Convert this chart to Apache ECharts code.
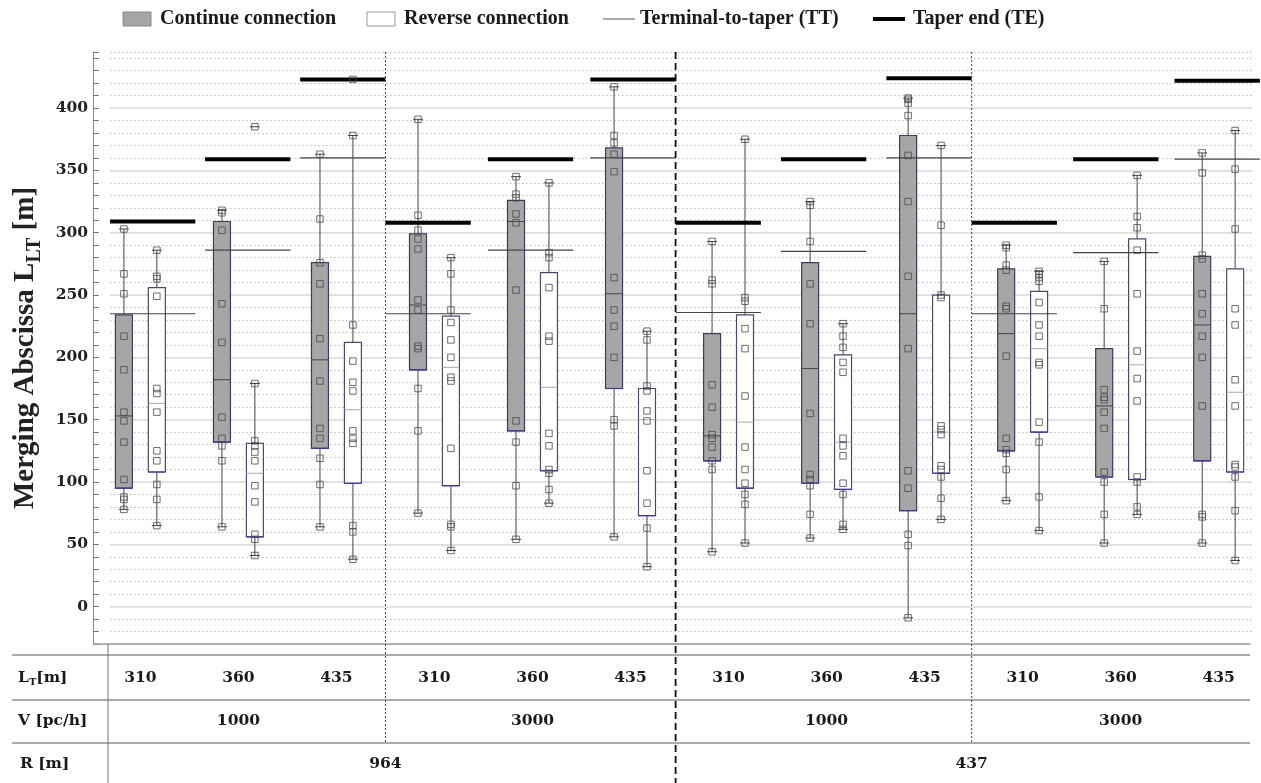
<!DOCTYPE html>
<html><head><meta charset="utf-8">
<script src="https://cdn.jsdelivr.net/npm/echarts@6/dist/echarts.min.js"></script>
<style>html,body{margin:0;padding:0;background:#fff}#c{width:1261px;height:783px}</style>
</head><body><div id="c"></div>
<script>
// ---------------- DATA ----------------
const ltLabels = ['310','360','435','310','360','435','310','360','435','310','360','435'];
const vLabels = ['1000','3000','1000','3000'];
const rLabels = ['964','437'];
const yMajorTicks = [0,50,100,150,200,250,300,350,400];
const legendNames = ['Continue connection','Reverse connection','Terminal-to-taper (TT)','Taper end (TE)'];

// box statistics: [min, Q1, median, Q3, max]
const contStats = [
  [78, 95, 153, 234, 303],
  [64, 132, 182, 309, 318],
  [64, 127, 198, 276, 363],
  [75, 190, 242, 299, 391],
  [54, 141, 309, 326, 345],
  [56, 175, 251, 368, 417],
  [44, 117, 137, 219, 293],
  [55, 99, 191, 276, 325],
  [-9, 77, 235, 378, 408],
  [85, 125, 219, 271, 290],
  [51, 104, 161, 207, 277],
  [51, 117, 226, 281, 364]
];
const revStats = [
  [65, 108, 163, 256, 286],
  [41, 56, 107, 131, 179],
  [38, 99, 158, 212, 378],
  [45, 97, 192, 233, 280],
  [83, 109, 176, 268, 340],
  [32, 73, 150, 175, 221],
  [51, 95, 148, 234, 375],
  [62, 94, 132, 202, 227],
  [70, 107, 140, 250, 370],
  [61, 140, 207, 253, 269],
  [74, 102, 194, 295, 346],
  [37, 108, 172, 271, 382]
];
// individual observations
const contPoints = [
  [303, 267, 251, 217, 190, 156, 149, 132, 102, 88, 86, 78],
  [318, 316, 302, 243, 212, 152, 135, 129, 117, 64],
  [363, 311, 276, 259, 215, 181, 143, 135, 119, 98, 64],
  [391, 314, 302, 295, 287, 246, 238, 209, 207, 175, 141, 75],
  [345, 331, 328, 315, 308, 254, 149, 132, 97, 54],
  [417, 378, 372, 363, 349, 264, 238, 225, 200, 150, 145, 56],
  [293, 262, 259, 178, 160, 138, 135, 128, 117, 110, 44],
  [325, 322, 293, 259, 227, 155, 106, 102, 97, 74, 55],
  [408, 407, 404, 394, 362, 325, 265, 207, 109, 95, 58, 49, -9],
  [290, 288, 274, 270, 241, 239, 201, 135, 126, 123, 110, 85],
  [277, 239, 174, 168, 166, 156, 143, 108, 100, 74, 51],
  [364, 348, 282, 279, 251, 235, 217, 200, 161, 74, 72, 51]
];
const revPoints = [
  [286, 265, 263, 249, 175, 171, 156, 125, 117, 98, 86, 65],
  [385, 179, 133, 129, 124, 117, 97, 84, 58, 54, 41],
  [423, 378, 226, 197, 180, 173, 141, 135, 131, 65, 60, 38],
  [280, 267, 238, 228, 214, 200, 184, 181, 127, 66, 64, 45],
  [340, 284, 280, 256, 217, 213, 139, 129, 110, 107, 94, 83],
  [221, 214, 177, 173, 157, 149, 109, 83, 63, 32],
  [375, 248, 245, 223, 207, 169, 128, 110, 99, 90, 82, 51],
  [227, 217, 208, 196, 188, 135, 129, 121, 99, 90, 66, 62],
  [370, 306, 250, 248, 145, 142, 138, 113, 110, 104, 87, 70],
  [269, 267, 264, 261, 244, 226, 217, 196, 194, 148, 132, 88, 61],
  [346, 313, 304, 286, 251, 205, 183, 165, 104, 100, 80, 74],
  [382, 351, 303, 239, 226, 182, 161, 114, 112, 104, 77, 37]
];
const ttValues = [235, 286, 360, 235, 286, 360, 236, 285, 360, 235, 284, 359];
const teValues = [309, 359, 423, 308, 359, 423, 308, 359, 424, 308, 359, 422];

// ---------------- LAYOUT ----------------
const X_MIN = 0.19, X_MAX = 11.84;
const PAIR_OFFSET = 0.168;
const BOX_W = 17, CAP_W = 10;
const BLOCK_START = [X_MIN, 3.0, 5.96, 8.98];
const BLOCK_END = [3.0, 5.96, 8.98, 11.92];
const LINE_LEN = 0.87;
const SERIF = '"Liberation Serif","Times New Roman",serif';
const SERIF2 = '"DejaVu Serif",serif';

function groupSpan(g) {
  const b = Math.floor(g / 3), j = g % 3;
  const s0 = BLOCK_START[b], e0 = BLOCK_END[b];
  if (j === 0) return [s0, s0 + LINE_LEN];
  if (j === 2) return [e0 - LINE_LEN, e0];
  const m = (s0 + e0) / 2;
  return [m - LINE_LEN / 2, m + LINE_LEN / 2];
}

function ln(x1, y1, x2, y2, color, lw, dash) {
  return {type: 'line', shape: {x1, y1, x2, y2}, style: {stroke: color, lineWidth: lw, lineDash: dash || null}};
}

function makeBoxRender(side, pointsArr, fill, stroke, medColor) {
  return function (params, api) {
    const g = api.value(0);
    const xc = g + 0.5 + side * PAIR_OFFSET;
    const P = v => api.coord([xc, v]);
    const vals = [api.value(1), api.value(2), api.value(3), api.value(4), api.value(5)];
    const x = P(vals[0])[0];
    const yMin = P(vals[0])[1], yQ1 = P(vals[1])[1], yMed = P(vals[2])[1], yQ3 = P(vals[3])[1], yMax = P(vals[4])[1];
    const hw = BOX_W / 2, cw = CAP_W / 2;
    const children = [
      ln(x, yQ3, x, yMax, '#444', 1),
      ln(x, yQ1, x, yMin, '#444', 1),
      ln(x - cw, yMax, x + cw, yMax, '#444', 1),
      ln(x - cw, yMin, x + cw, yMin, '#444', 1),
      {type: 'rect', shape: {x: x - hw, y: yQ3, width: BOX_W, height: yQ1 - yQ3}, style: {fill: fill, stroke: stroke, lineWidth: 1.2}},
      ln(x - hw, yQ1, x + hw, yQ1, '#3a3a9a', 1.2),
      ln(x - hw, yMed, x + hw, yMed, medColor, 1)
    ];
    pointsArr[g].forEach(v => {
      if (v > vals[4] || v < vals[0]) {
        const y = P(v)[1];
        children.push(ln(x - cw, y, x + cw, y, '#444', 1));
      }
    });
    return {type: 'group', children};
  };
}

function makeRefRender(color, lw) {
  return function (params, api) {
    const g = api.value(0), v = api.value(1);
    const sp = groupSpan(g);
    const p1 = api.coord([sp[0], v]), p2 = api.coord([sp[1], v]);
    return ln(p1[0], p1[1], p2[0], p2[1], color, lw);
  };
}

const pointStyle = {color: 'rgba(0,0,0,0)', borderColor: '#4a4a4a', borderWidth: 1};

const chart = echarts.init(document.getElementById('c'), null, {renderer: 'canvas'});
const option = {
  animation: false,
  backgroundColor: '#fff',
  grid: {left: 110, right: 9, top: 52, bottom: 139},
  xAxis: {type: 'value', min: X_MIN, max: X_MAX, show: false},
  yAxis: {
    type: 'value', min: -30, max: 445, interval: 10, offset: 17,
    name: '{a|Merging Abscissa L}{s|LT}{a| [m]}',
    nameLocation: 'middle', nameGap: 46, nameRotate: 90,
    nameTextStyle: {
      rich: {
        a: {fontFamily: SERIF, fontWeight: 'bold', fontSize: 29, color: '#222'},
        s: {fontFamily: SERIF, fontWeight: 'bold', fontSize: 20, color: '#222', padding: [18, 0, 0, 0]}
      }
    },
    axisLine: {show: true, lineStyle: {color: '#888', width: 1}},
    axisTick: {show: true, inside: true, length: 6, lineStyle: {color: '#777'}},
    axisLabel: {
      margin: 5, fontFamily: SERIF2, fontWeight: 'bold', fontSize: 15.5, color: '#222',
      formatter: v => (yMajorTicks.indexOf(v) >= 0 ? String(v) : '')
    },
    splitLine: {show: true, lineStyle: {type: [1.5, 2.5], color: '#bbb', width: 1}}
  },
  series: [
    {
      type: 'line', data: [], silent: true, z: 1,
      markLine: {silent: true, z: 1, symbol: 'none', label: {show: false},
        lineStyle: {type: 'solid', color: '#dcdcdc', width: 1.5},
        data: yMajorTicks.map(v => ({yAxis: v}))}
    },
    {
      name: legendNames[0], type: 'custom', clip: false, z: 3, silent: true,
      renderItem: makeBoxRender(-1, contPoints, '#a6a6a6', '#3c3c5c', '#444'),
      data: contStats.map((s, g) => [g].concat(s))
    },
    {
      name: legendNames[1], type: 'custom', clip: false, z: 3, silent: true,
      renderItem: makeBoxRender(1, revPoints, '#ffffff', '#4a4a6a', '#aaa'),
      data: revStats.map((s, g) => [g].concat(s))
    },
    {
      name: legendNames[2], type: 'custom', clip: false, z: 4, silent: true,
      renderItem: makeRefRender('#444', 1.2),
      data: ttValues.map((v, g) => [g, v])
    },
    {
      name: legendNames[3], type: 'custom', clip: false, z: 4, silent: true,
      renderItem: makeRefRender('#000', 4),
      data: teValues.map((v, g) => [g, v])
    },
    {
      type: 'scatter', symbol: 'rect', symbolSize: 6.5, z: 5, silent: true,
      itemStyle: pointStyle,
      data: contPoints.flatMap((arr, g) => arr.map(v => [g + 0.5 - PAIR_OFFSET, v]))
    },
    {
      type: 'scatter', symbol: 'rect', symbolSize: 6.5, z: 5, silent: true,
      itemStyle: pointStyle,
      data: revPoints.flatMap((arr, g) => arr.map(v => [g + 0.5 + PAIR_OFFSET, v]))
    }
  ]
};
chart.setOption(option);

// ---------------- TABLE, DIVIDERS, LEGEND ----------------
const px = v => chart.convertToPixel({xAxisIndex: 0}, v);
const yTop = chart.convertToPixel({yAxisIndex: 0}, 445);
const yBot = chart.convertToPixel({yAxisIndex: 0}, -30);
const ROW_LINES = [yBot + 11, yBot + 56, yBot + 99];
const ROW_TEXT = [yBot + 34, yBot + 77, yBot + 120];
const H = 783;
const tFont = {fontFamily: SERIF2, fontWeight: 'bold', fontSize: 15.5, fill: '#1a1a1a'};
const els = [];
function txt(x, y, text, align, extra) {
  els.push({type: 'text', x, y, style: Object.assign({text, align: align || 'center', verticalAlign: 'middle'}, tFont, extra || {}), silent: true, z: 10});
}
function gl(x1, y1, x2, y2, color, lw, dash) {
  const o = ln(x1, y1, x2, y2, color, lw, dash);
  o.silent = true; o.z = 10;
  els.push(o);
}
// x axis baseline and table rules
gl(93, yBot, px(X_MAX) - 2, yBot, '#999', 1.5);
ROW_LINES.forEach(y => gl(12, y, 1250, y, '#aaa', 2));
gl(108, yBot, 108, H, '#777', 1);
// block dividers
[1, 2, 3].forEach(b => {
  const x = px(BLOCK_START[b]);
  if (b === 2) gl(x, yTop, x, H, '#111', 1.8, [7, 4]);
  else gl(x, yTop, x, ROW_LINES[2], '#444', 1, [2, 2]);
});
// row headers
els.push({type: 'text', x: 18, y: ROW_TEXT[0], silent: true, z: 10,
  style: {text: '{a|L}{s|T}{a|[m]}', verticalAlign: 'middle', align: 'left',
    rich: {a: Object.assign({}, tFont, {fill: '#1a1a1a'}), s: {fontFamily: SERIF2, fontWeight: 'bold', fontSize: 10, fill: '#1a1a1a', padding: [8, 0, 0, 0]}}}});
txt(18, ROW_TEXT[1], 'V [pc/h]', 'left');
txt(20, ROW_TEXT[2], 'R [m]', 'left');
ltLabels.forEach((t, g) => txt(px(g + 0.5), ROW_TEXT[0], t));
vLabels.forEach((t, i) => txt(px(i * 3 + 1.5), ROW_TEXT[1], t));
rLabels.forEach((t, i) => txt(px(BLOCK_START[i * 2 + 1]), ROW_TEXT[2], t));

// legend
const lFont = {fontFamily: SERIF, fontWeight: 'bold', fontSize: 20, fill: '#1a1a1a'};
const LY = 19;
els.push({type: 'rect', shape: {x: 123, y: LY - 7, width: 28, height: 14}, style: {fill: '#a6a6a6', stroke: '#888', lineWidth: 1}, silent: true});
els.push({type: 'text', x: 160, y: LY, style: Object.assign({text: legendNames[0], verticalAlign: 'middle'}, lFont), silent: true});
els.push({type: 'rect', shape: {x: 367, y: LY - 7, width: 28, height: 14}, style: {fill: '#fff', stroke: '#999', lineWidth: 1}, silent: true});
els.push({type: 'text', x: 404, y: LY, style: Object.assign({text: legendNames[1], verticalAlign: 'middle'}, lFont), silent: true});
gl(603, LY, 635, LY, '#aaa', 2);
els.push({type: 'text', x: 640, y: LY, style: Object.assign({text: legendNames[2], verticalAlign: 'middle'}, lFont), silent: true});
gl(873, LY, 905, LY, '#000', 4);
els.push({type: 'text', x: 913, y: LY, style: Object.assign({text: legendNames[3], verticalAlign: 'middle'}, lFont), silent: true});

chart.setOption({graphic: {elements: els}});
</script>
</body></html>
